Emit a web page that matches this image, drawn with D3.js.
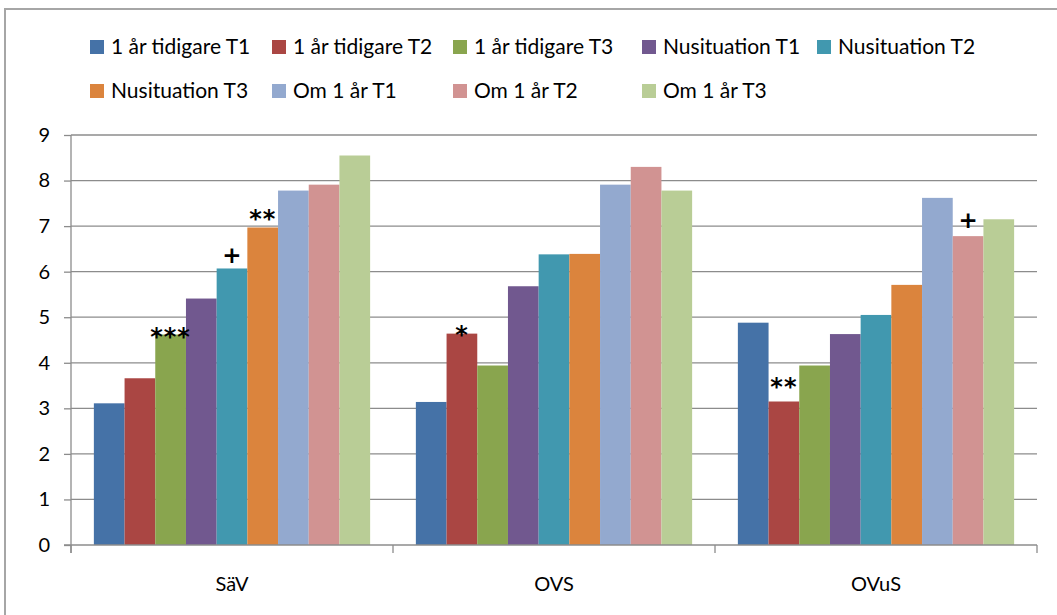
<!DOCTYPE html>
<html>
<head>
<meta charset="utf-8">
<script src="https://cdn.jsdelivr.net/npm/d3@7"></script>
<style>
  body { margin: 0; background: #fff; }
  svg { display: block; font-family: Lato, "Open Sans", sans-serif; }
</style>
</head>
<body>
<div id="chart"></div>
<script>
// data
const categories = ["SäV", "OVS", "OVuS"];
const seriesNames = [
  "1 år tidigare T1", "1 år tidigare T2", "1 år tidigare T3",
  "Nusituation T1", "Nusituation T2", "Nusituation T3",
  "Om 1 år T1", "Om 1 år T2", "Om 1 år T3"
];
const valuesSaV  = [3.11, 3.66, 4.62, 5.41, 6.07, 6.97, 7.78, 7.91, 8.55];
const valuesOVS  = [3.14, 4.64, 3.94, 5.68, 6.38, 6.39, 7.91, 8.30, 7.78];
const valuesOVuS = [4.88, 3.15, 3.94, 4.63, 5.05, 5.71, 7.62, 6.78, 7.15];
const yTicks = [0, 1, 2, 3, 4, 5, 6, 7, 8, 9];
// significance markers: [category, series index, label]
const markers = [
  ["SäV", 2, "***"], ["SäV", 4, "+"], ["SäV", 5, "**"],
  ["OVS", 1, "*"], ["OVuS", 1, "**"], ["OVuS", 7, "+"]
];
// gap in px between bar top and the marker centre (layout only)
const markerGap = [4, 13, 14, 5, 21, 16];

const colors = ["#4572A7", "#AA4643", "#89A54E", "#71588F", "#4198AF",
                "#DB843D", "#93A9CF", "#D19392", "#B9CD96"];

const width = 1057, height = 615;
const margin = {left: 71, right: 20, top: 135, bottom: 70};

const svg = d3.select("#chart").append("svg")
    .attr("width", width)
    .attr("height", height);

// outer frame (only top and left edge visible)
svg.append("path")
    .attr("d", "M5,615 V9 H1057")
    .attr("fill", "none")
    .attr("stroke", "#a6a6a6")
    .attr("stroke-width", 2);

const rows = categories.map((c, i) => ({
  cat: c,
  values: [valuesSaV, valuesOVS, valuesOVuS][i]
}));

const x0 = d3.scaleBand()
    .domain(categories)
    .range([margin.left, width - margin.right]);

const x1 = d3.scaleBand()
    .domain(d3.range(seriesNames.length))
    .range([0, x0.bandwidth()])
    .paddingOuter(0.745);

const y = d3.scaleLinear()
    .domain([0, 9])
    .range([height - margin.bottom, margin.top]);

// gridlines
svg.append("g")
  .selectAll("line")
  .data(yTicks.filter(d => d > 0))
  .join("line")
    .attr("x1", margin.left)
    .attr("x2", width - margin.right)
    .attr("y1", d => y(d))
    .attr("y2", d => y(d))
    .attr("stroke", "#8c8c8c")
    .attr("stroke-width", 1.3);

// bars
const groups = svg.append("g")
  .selectAll("g")
  .data(rows)
  .join("g")
    .attr("transform", d => `translate(${x0(d.cat)},0)`);

groups.selectAll("rect")
  .data(d => d.values.map((v, i) => ({v, i})))
  .join("rect")
    .attr("x", d => x1(d.i))
    .attr("width", x1.bandwidth())
    .attr("y", d => y(d.v))
    .attr("height", d => y(0) - y(d.v))
    .attr("fill", d => colors[d.i]);

// y axis
const yAxis = svg.append("g")
    .attr("transform", `translate(${margin.left},0)`)
    .call(d3.axisLeft(y).tickValues(yTicks).tickSize(7).tickPadding(14));
yAxis.select(".domain").attr("stroke", "#8c8c8c").attr("stroke-width", 1.3)
    .attr("d", `M0,${y(9)}V${y(0) + 8}`);
yAxis.selectAll(".tick line").attr("stroke", "#8c8c8c").attr("stroke-width", 1.3);
yAxis.selectAll(".tick text")
    .attr("font-size", 20)
    .attr("font-family", "Lato, sans-serif")
    .attr("fill", "#000");

// x axis baseline and group separators
svg.append("line")
    .attr("x1", margin.left - 7).attr("x2", width - margin.right)
    .attr("y1", y(0)).attr("y2", y(0))
    .attr("stroke", "#8c8c8c").attr("stroke-width", 1.3);

const bounds = categories.map(c => x0(c)).concat([x0.range()[1]]);
svg.append("g")
  .selectAll("line")
  .data(bounds)
  .join("line")
    .attr("x1", d => d).attr("x2", d => d)
    .attr("y1", y(0)).attr("y2", y(0) + 8)
    .attr("stroke", "#8c8c8c").attr("stroke-width", 1.3);

svg.append("g")
  .selectAll("text")
  .data(categories)
  .join("text")
    .attr("x", d => x0(d) + x0.bandwidth() / 2)
    .attr("y", y(0) + 46)
    .attr("text-anchor", "middle")
    .attr("font-size", 20)
    .text(d => d);

// significance markers
svg.append("g")
  .selectAll("text")
  .data(markers)
  .join("text")
    .attr("x", d => x0(d[0]) + x1(d[1]) + x1.bandwidth() / 2)
    .attr("y", (d, i) => {
      const v = rows.find(r => r.cat === d[0]).values[d[1]];
      const centre = y(v) - markerGap[i];
      return centre + (d[2] === "+" ? 8 : 14);
    })
    .attr("text-anchor", "middle")
    .attr("font-family", "DejaVu Sans, sans-serif")
    .attr("font-size", d => d[2] === "+" ? 23 : 24)
    .attr("font-weight", "bold")
    .attr("letter-spacing", d => d[2] === "+" ? 0 : 1)
    .text(d => d[2]);

// legend
const legendCols = [90, 272, 453, 642, 817];
const legendRows = [47, 91];
const legend = svg.append("g")
  .selectAll("g")
  .data(seriesNames)
  .join("g")
    .attr("transform", (d, i) =>
      `translate(${legendCols[i < 5 ? i : i - 5]},${legendRows[i < 5 ? 0 : 1]})`);

legend.append("rect")
    .attr("x", 0).attr("y", -7)
    .attr("width", 14).attr("height", 14)
    .attr("fill", (d, i) => colors[i]);

legend.append("text")
    .attr("x", 21)
    .attr("y", 0)
    .attr("dy", "0.35em")
    .attr("font-size", 21)
    .text(d => d);
</script>
</body>
</html>
